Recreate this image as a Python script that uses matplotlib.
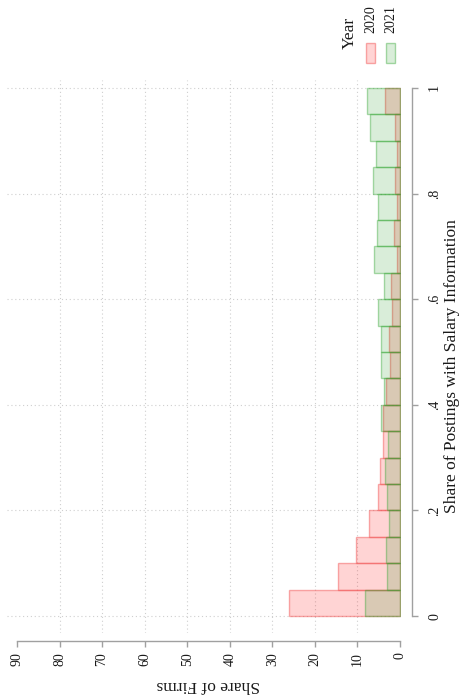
import numpy as np
import matplotlib
matplotlib.use("Agg")
import matplotlib.pyplot as plt
from matplotlib.patches import Rectangle

plt.rcParams['font.family'] = ['Liberation Serif', 'DejaVu Serif']

# histogram bins (share of postings with salary info), width 0.05
bin_left = [0.00, 0.05, 0.10, 0.15, 0.20, 0.25, 0.30, 0.35, 0.40, 0.45,
            0.50, 0.55, 0.60, 0.65, 0.70, 0.75, 0.80, 0.85, 0.90, 0.95]
bin_width = 0.05

# share of firms (%) per bin
share_2020 = [26.0, 14.5, 10.3, 7.4, 5.1, 4.7, 3.9, 3.9, 3.4, 2.3,
              2.5, 1.8, 2.1, 0.8, 1.4, 0.8, 1.2, 0.6, 1.2, 3.5]
share_2021 = [8.2, 3.1, 3.4, 2.7, 3.1, 3.5, 2.9, 4.4, 3.8, 4.4,
              4.5, 5.2, 3.7, 6.1, 5.5, 5.1, 6.4, 5.6, 7.0, 7.8]

x_ticks = [0, 0.2, 0.4, 0.6, 0.8, 1.0]
x_tick_labels = ['0', '.2', '.4', '.6', '.8', '1']
y_ticks = [0, 10, 20, 30, 40, 50, 60, 70, 80, 90]

W, H = 461, 698
fig = plt.figure(figsize=(W / 100, H / 100), dpi=100)

# the whole chart is turned 90 degrees counter-clockwise
ax = fig.add_axes([7 / W, (H - 633) / H, (401 - 7) / W, (633 - 80) / H])

c20_face = (1.0, 0.0, 0.0, 0.17)
c20_edge = (0.95, 0.35, 0.35, 0.5)
c21_face = (0.0, 0.55, 0.0, 0.15)
c21_edge = (0.2, 0.65, 0.2, 0.42)

ax.barh(bin_left, share_2020, height=bin_width, align='edge',
        color=c20_face, edgecolor=c20_edge, linewidth=1.0, zorder=3)
ax.barh(bin_left, share_2021, height=bin_width, align='edge',
        color=c21_face, edgecolor=c21_edge, linewidth=1.0, zorder=4)

ax.set_xlim(92.35, -0.235)
ax.set_ylim(-0.032, 1.015)

# dotted grid; none at the outer ends of the share-of-firms axis
grid_kw = dict(color='#cfcfcf', linewidth=0.8, linestyle=(0, (1, 2.5)), zorder=1)
for v in y_ticks[1:-1]:
    ax.axvline(v, **grid_kw)
for v in x_ticks:
    ax.axhline(v, **grid_kw)

for s in ['top', 'left']:
    ax.spines[s].set_visible(False)
ax.spines['right'].set_position(('outward', 8))
ax.spines['bottom'].set_position(('outward', 6))
ax.spines['right'].set_bounds(0, 1)
ax.spines['bottom'].set_bounds(0, 90)
for s in ['right', 'bottom']:
    ax.spines[s].set_color('#a0a0a0')
    ax.spines[s].set_linewidth(1.0)

ax.yaxis.tick_right()
ax.set_yticks(x_ticks)
ax.set_yticklabels(x_tick_labels, rotation=90, va='center')
ax.set_xticks(y_ticks)
ax.set_xticklabels([str(v) for v in y_ticks], rotation=90)
ax.tick_params(axis='both', colors='#a0a0a0', labelcolor='#1a1a1a',
               labelsize=10, length=4.5, width=1.0)
ax.tick_params(axis='y', pad=7)
ax.tick_params(axis='x', pad=3)

fig.text(452 / W, 1 - 366 / H, 'Share of Postings with Salary Information',
         rotation=90, ha='center', va='center', fontsize=12.5, color='#1a1a1a')
fig.text(208 / W, 1 - 685 / H, 'Share of Firms',
         rotation=180, ha='center', va='center', fontsize=12.5, color='#1a1a1a')

# legend, turned like the rest
fig.text(350 / W, 1 - 33 / H, 'Year', rotation=90, ha='center', va='center',
         fontsize=12.5, color='#1a1a1a')
fig.add_artist(Rectangle((366 / W, 1 - 63 / H), 9 / W, 20 / H,
                         transform=fig.transFigure, facecolor=c20_face,
                         edgecolor=c20_edge, linewidth=1.0))
fig.add_artist(Rectangle((386 / W, 1 - 63 / H), 9 / W, 20 / H,
                         transform=fig.transFigure, facecolor=c21_face,
                         edgecolor=c21_edge, linewidth=1.0))
fig.text(370.5 / W, 1 - 19 / H, '2020', rotation=90, ha='center', va='center',
         fontsize=10, color='#1a1a1a')
fig.text(390.5 / W, 1 - 19 / H, '2021', rotation=90, ha='center', va='center',
         fontsize=10, color='#1a1a1a')

fig.savefig('out.png', dpi=100)
